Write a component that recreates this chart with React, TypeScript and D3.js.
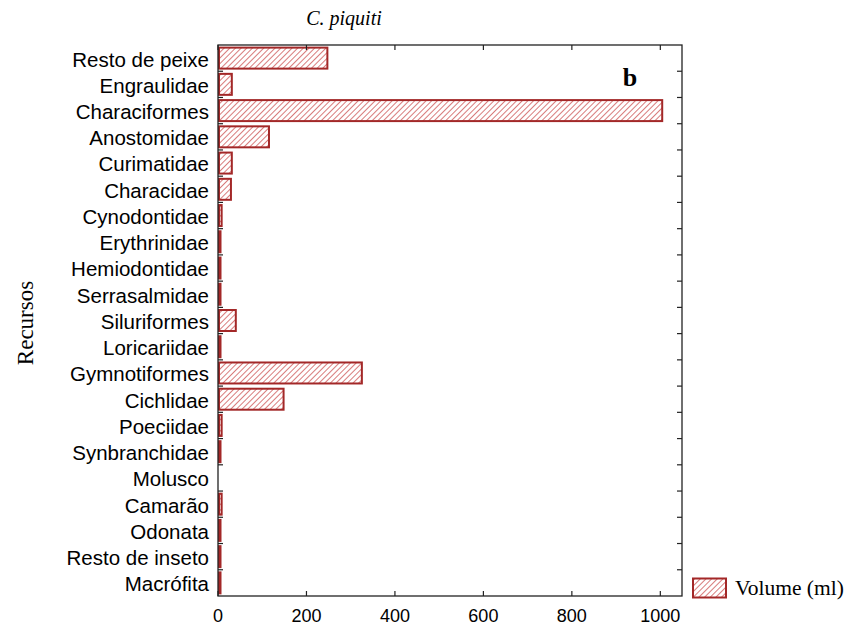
import React from "react";
import * as d3 from "d3";

const categories = [
  "Resto de peixe", "Engraulidae", "Characiformes", "Anostomidae", "Curimatidae",
  "Characidae", "Cynodontidae", "Erythrinidae", "Hemiodontidae", "Serrasalmidae",
  "Siluriformes", "Loricariidae", "Gymnotiformes", "Cichlidae", "Poeciidae",
  "Synbranchidae", "Molusco", "Camarão", "Odonata", "Resto de inseto", "Macrófita",
];
const volume = [245, 29, 1002, 113, 29, 27, 6, 3, 3, 1, 38, 3, 323, 146, 6, 2, 0, 6, 2, 1, 1];
const xTicks = [0, 200, 400, 600, 800, 1000];
const title = "C. piquiti";
const panelLabel = "b";
const yTitle = "Recursos";
const legendLabel = "Volume (ml)";

const W = 852, H = 628;
const left = 218, right = 682, top = 45, bottom = 596;
const red = "#a32828";

export default function App() {
  const x = d3.scaleLinear().domain([0, 1049]).range([left, right]);
  const y = d3.scaleBand<string>().domain(categories).range([top, bottom]).paddingInner(0.2).paddingOuter(0.1);
  const band = (bottom - top) / categories.length;
  const boundaries = d3.range(1, categories.length).map((i) => top + i * band);
  return (
    <svg width={W} height={H} style={{ position: "absolute", left: 0, top: 0 }}>
      <defs>
        <pattern id="hatch" patternUnits="userSpaceOnUse" width="4" height="4" patternTransform="rotate(45)">
          <rect width="4" height="4" fill="#fff" />
          <line x1="0" y1="0" x2="0" y2="4" stroke="#cf5a5a" strokeWidth="1.6" />
        </pattern>
      </defs>
      <rect width={W} height={H} fill="#fff" />
      <text x={344} y={25} textAnchor="middle" fontFamily="Liberation Serif" fontStyle="italic" fontSize={20}>{title}</text>
      {/* bars */}
      {categories.map((c, i) => {
        const v = volume[i];
        if (v <= 0) return null;
        const bh = band * 0.8;
        const yc = (y(c) as number) + y.bandwidth() / 2;
        const w = x(v) - x(0);
        return (
          <rect key={c} x={x(0) + 1} y={yc - bh / 2} width={Math.max(w, 1.5)} height={bh}
            fill="url(#hatch)" stroke={red} strokeWidth={2} />
        );
      })}
      {/* frame */}
      <rect x={left} y={top} width={right - left} height={bottom - top} fill="none" stroke="#222" strokeWidth={1.3} />
      {/* x ticks */}
      {xTicks.map((t) => (
        <g key={t}>
          <line x1={x(t)} x2={x(t)} y1={bottom} y2={bottom - 5} stroke="#222" strokeWidth={1.2} />
          <line x1={x(t)} x2={x(t)} y1={top} y2={top + 5} stroke="#222" strokeWidth={1.2} />
          <text x={x(t)} y={622} textAnchor="middle" fontFamily="Liberation Sans" fontSize={18}>{t}</text>
        </g>
      ))}
      {/* y ticks */}
      {boundaries.map((b, i) => (
        <g key={i}>
          <line x1={left} x2={left + 5} y1={b} y2={b} stroke="#222" strokeWidth={1.2} />
          <line x1={right} x2={right - 5} y1={b} y2={b} stroke="#222" strokeWidth={1.2} />
        </g>
      ))}
      {/* y labels */}
      {categories.map((c, i) => (
        <text key={c} x={209} y={(y(c) as number) + y.bandwidth() / 2} dy="0.41em"
          textAnchor="end" fontFamily="Liberation Sans" fontSize={20.5}>{c}</text>
      ))}
      <text transform={`translate(33,323) rotate(-90)`} textAnchor="middle" fontFamily="Liberation Serif" fontSize={23}>{yTitle}</text>
      <text x={630} y={86} textAnchor="middle" fontFamily="Liberation Serif" fontWeight="bold" fontSize={26}>{panelLabel}</text>
      {/* legend */}
      <rect x={693} y={578.5} width={33} height={19} fill="url(#hatch)" stroke={red} strokeWidth={2} />
      <text x={735} y={595} fontFamily="Liberation Serif" fontSize={21.5}>{legendLabel}</text>
    </svg>
  );
}
